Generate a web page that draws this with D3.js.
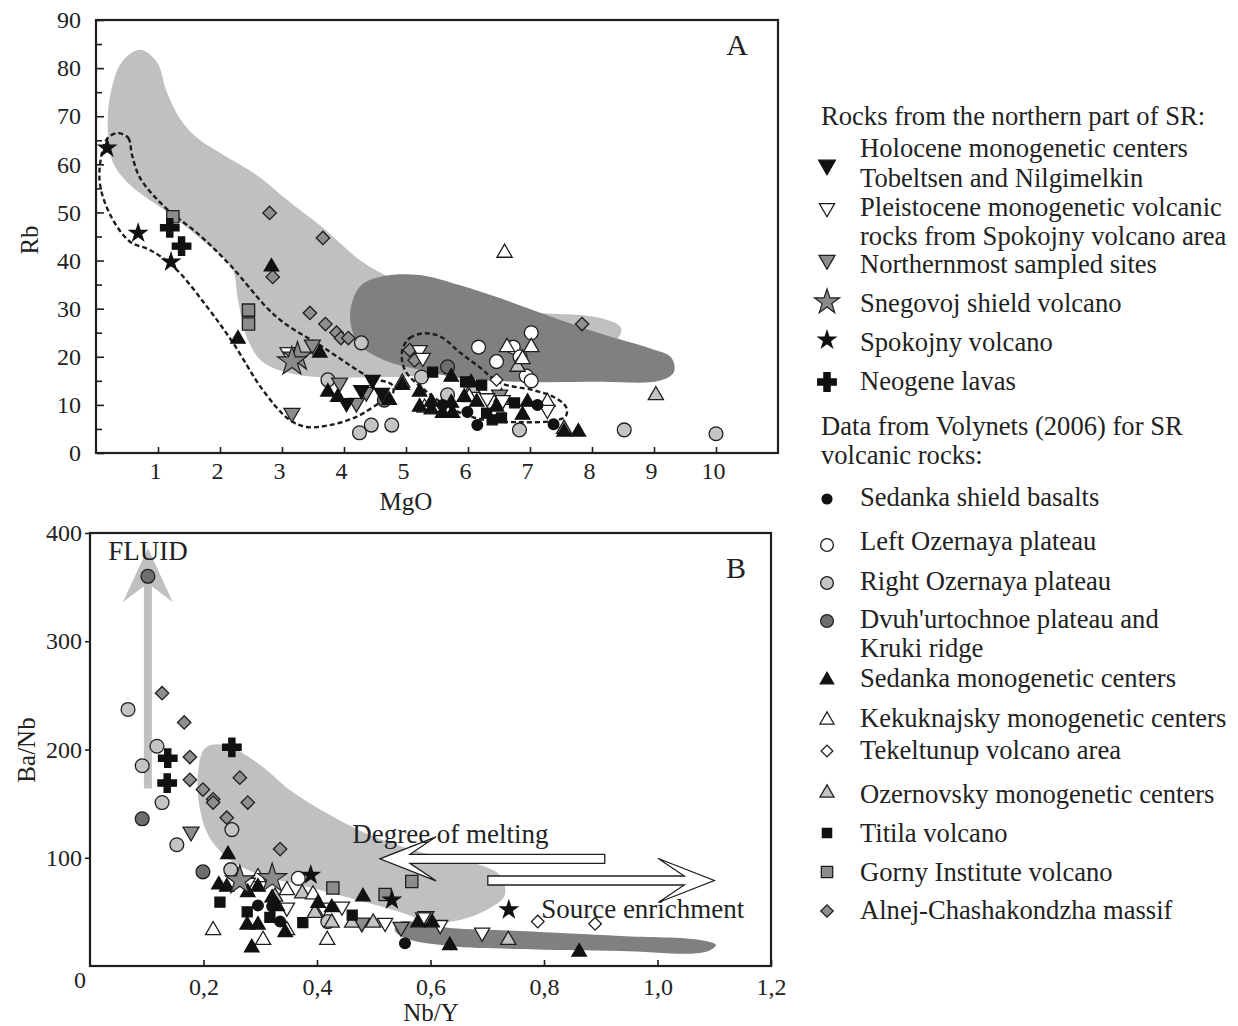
<!DOCTYPE html>
<html>
<head>
<meta charset="utf-8">
<script src="https://cdn.jsdelivr.net/npm/d3@7"></script>
<style>
	body { margin: 0; background: #fff; }
	svg { font-family: "Liberation Serif", "Times New Roman", serif; }
</style>
</head>
<body>
<svg id="chart" width="1238" height="1026"></svg>
<script>
"use strict";

// ---- panel A: MgO vs Rb ----
const holoA = [[4.04, 10.4], [4.28, 13.1], [4.46, 15.2], [4.61, 12.5]];
const pleistA = [[3.09, 21.0], [5.22, 21.4], [5.27, 19.8], [6.31, 11.4], [7.28, 9.0], [6.56, 11.0]];
const northA = [[3.49, 22.5], [3.93, 14.6], [4.20, 10.4], [3.16, 8.3], [4.36, 12.7], [6.51, 12.1]];
const snegoA = [[3.25, 20.0], [3.16, 19.0]];
const spokA = [[0.18, 63.4], [0.68, 45.7], [1.21, 39.7]];
const neoA = [[1.19, 46.8], [1.38, 43.0]];
const sedShieldA = [[5.59, 10.0], [5.99, 8.5], [6.15, 5.8], [7.12, 10.0], [7.38, 6.0]];
const leftOzA = [[6.17, 22.0], [6.46, 19.0], [6.73, 22.0], [6.84, 20.0], [7.02, 25.0], [6.94, 16.0], [7.02, 15.0]];
const rightOzA = [[4.28, 22.9], [3.74, 15.2], [4.25, 4.2], [4.44, 5.8], [4.77, 5.8], [5.25, 15.8], [5.67, 12.1], [6.83, 4.8], [8.52, 4.8], [10.0, 4.0]];
const dvuhA = [[5.67, 17.9], [4.65, 11.0]];
const sedMonoA = [[2.83, 38.7], [2.29, 23.7], [3.61, 20.8], [3.74, 12.7], [3.90, 11.6], [4.73, 11.0], [4.94, 14.1],
	[5.22, 12.7], [5.41, 10.6], [5.73, 10.4], [5.22, 9.6], [5.59, 8.3], [5.75, 8.3], [5.94, 11.6], [6.14, 10.6],
	[6.46, 9.6], [6.88, 7.9], [6.96, 10.6], [5.73, 15.8], [6.05, 14.6], [7.55, 4.4], [7.78, 4.4], [5.41, 9.0]];
const kekukA = [[6.59, 41.6], [6.63, 22.0], [7.02, 22.0], [6.88, 19.5], [6.02, 11.6], [6.54, 11.6], [7.28, 10.6], [5.30, 9.4]];
const tekelA = [[6.46, 15.2]];
const ozernA = [[9.03, 12.0], [6.07, 13.5], [6.54, 11.0], [7.55, 5.0], [6.80, 17.9], [4.94, 14.6]];
const titilaA = [[5.43, 16.8], [5.96, 14.8], [6.22, 14.1], [6.75, 10.4], [6.39, 6.9], [6.54, 7.3], [6.30, 8.3]];
const gornyA = [[1.24, 49.1], [2.46, 29.7], [2.46, 26.8]];
const alnejA = [[2.80, 49.9], [3.66, 44.7], [2.85, 36.6], [3.45, 29.1], [3.70, 26.8], [3.88, 25.0], [3.95, 23.9],
	[4.07, 23.9], [5.06, 21.4], [5.14, 19.3], [7.84, 26.8]];

// fields and outlines in A (MgO, Rb)
const lightFieldA = [[0.71, 83.8], [0.98, 81.3], [1.14, 75.1], [1.35, 69.6], [1.63, 65.5], [2.05, 62.0], [2.59, 57.8],
	[3.12, 52.2], [3.66, 46.8], [4.30, 39.7], [4.90, 35.6], [5.86, 31.8], [6.99, 29.3], [8.12, 28.1], [8.47, 26.0],
	[8.36, 23.1], [7.47, 22.5], [6.18, 20.4], [5.22, 16.2], [4.57, 15.8], [3.28, 16.2], [2.69, 18.9], [2.43, 24.1],
	[2.29, 31.8], [2.19, 38.5], [1.67, 44.7], [1.19, 49.7], [0.55, 55.7], [0.27, 60.5], [0.19, 67.2], [0.23, 74.4], [0.42, 81.3]];
const darkFieldA = [[4.12, 30.8], [4.28, 34.9], [4.65, 36.8], [5.22, 37.0], [5.86, 34.9], [6.51, 32.2], [7.31, 28.5],
	[8.12, 24.9], [8.92, 21.8], [9.28, 19.8], [9.32, 16.8], [9.08, 15.0], [8.12, 14.8], [6.83, 14.8], [5.86, 15.6],
	[5.22, 17.3], [4.65, 19.3], [4.25, 22.5], [4.11, 26.6]];
const dashLoop1A = [[0.35, 66.5], [0.52, 65.5], [0.58, 62.0], [0.71, 57.2], [1.11, 51.1], [1.67, 45.3], [2.16, 39.1],
	[2.91, 28.3], [3.66, 22.0], [4.41, 15.8], [4.78, 14.1], [4.78, 12.1], [4.57, 10.4], [4.20, 7.5], [3.77, 5.8],
	[3.40, 5.4], [3.12, 6.9], [2.69, 13.1], [2.21, 22.9], [1.79, 30.4], [1.27, 38.5], [0.87, 42.2], [0.55, 43.9],
	[0.23, 49.5], [0.06, 56.3], [0.10, 62.6], [0.19, 65.5]];
const dashLoop2A = [[4.94, 21.4], [5.06, 23.9], [5.30, 24.9], [5.57, 24.1], [5.86, 21.0], [6.18, 17.9], [6.51, 14.6],
	[7.04, 13.1], [7.39, 11.6], [7.58, 9.6], [7.58, 7.7], [7.39, 6.7], [6.83, 6.4], [6.26, 6.9], [5.78, 8.9],
	[5.30, 13.1], [4.98, 17.3]];

// ---- panel B: Nb/Y vs Ba/Nb ----
const holoB = [];
const pleistB = [[0.278, 77], [0.347, 54], [0.411, 54], [0.444, 55], [0.520, 40], [0.587, 45], [0.617, 38], [0.691, 31]];
const northB = [[0.178, 124], [0.479, 40], [0.592, 46], [0.548, 36]];
const snegoB = [[0.264, 79], [0.321, 81]];
const spokB = [[0.389, 84], [0.532, 61], [0.738, 52]];
const neoB = [[0.137, 192], [0.250, 202], [0.136, 169]];
const sedShieldB = [[0.296, 56], [0.321, 55], [0.335, 41], [0.555, 21]];
const leftOzB = [[0.367, 81]];
const rightOzB = [[0.067, 237], [0.118, 203], [0.092, 185], [0.127, 151], [0.153, 112], [0.250, 126], [0.248, 89], [0.419, 41]];
const dvuhB = [[0.102, 360], [0.092, 136], [0.199, 87]];
const sedMonoB = [[0.243, 103], [0.227, 75], [0.241, 73], [0.278, 68], [0.296, 73], [0.277, 38], [0.296, 38],
	[0.285, 17], [0.344, 31], [0.402, 58], [0.426, 54], [0.481, 64], [0.578, 40], [0.603, 40], [0.321, 63],
	[0.330, 55], [0.634, 19], [0.862, 13]];
const kekukB = [[0.217, 33], [0.296, 82], [0.305, 24], [0.347, 70], [0.393, 66], [0.418, 24], [0.347, 33]];
const tekelB = [[0.789, 41], [0.890, 39]];
const ozernB = [[0.326, 64], [0.374, 67], [0.396, 49], [0.426, 40], [0.462, 40], [0.499, 40], [0.737, 24]];
const titilaB = [[0.229, 59], [0.277, 50], [0.317, 45], [0.375, 40], [0.462, 47]];
const gornyB = [[0.428, 72], [0.567, 78], [0.520, 66]];
const alnejB = [[0.127, 252], [0.166, 225], [0.176, 193], [0.176, 172], [0.264, 174], [0.199, 163], [0.217, 154],
	[0.217, 151], [0.278, 151], [0.241, 137], [0.335, 108]];

const lightFieldB = [[0.203, 201.4], [0.238, 204.2], [0.300, 185.7], [0.352, 162.6], [0.423, 139.5], [0.493, 121.0],
	[0.581, 105.3], [0.670, 96.1], [0.722, 84.1], [0.731, 65.6], [0.705, 53.6], [0.652, 42.5], [0.599, 40.6],
	[0.546, 49.9], [0.458, 62.8], [0.370, 74.8], [0.300, 84.1], [0.247, 97.9], [0.211, 118.2], [0.194, 144.1], [0.190, 176.4]];
const darkFieldB = [[0.546, 40.6], [0.634, 35.1], [0.758, 32.3], [0.934, 27.7], [1.075, 24.0], [1.103, 19.4],
	[1.084, 12.9], [0.934, 13.9], [0.758, 15.7], [0.634, 18.5], [0.555, 25.9], [0.537, 33.3]];

// trend arrows in B: [x, y] of tail and head
const fluidArrow = [[0.102, 164], [0.102, 386]];
const meltArrow = [[0.907, 99], [0.511, 99]];
const enrichArrow = [[0.701, 79], [1.100, 79]];

// tick labels
const ticksAx = [1, 2, 3, 4, 5, 6, 7, 8, 9, 10];
const ticksAy = [0, 10, 20, 30, 40, 50, 60, 70, 80, 90];
const ticksBx = [0.2, 0.4, 0.6, 0.8, 1.0, 1.2];
const ticksBy = [100, 200, 300, 400];

// series styles
const styles = {
	holo: { shape: "triDown", fill: "#111", size: 100 },
	pleist: { shape: "triDown", fill: "#fff", size: 100 },
	north: { shape: "triDown", fill: "#8c8c8c", size: 110 },
	snego: { shape: "star", fill: "#8a8a8a", size: 260 },
	spok: { shape: "star", fill: "#111", size: 90 },
	neo: { shape: "cross", fill: "#111", size: 190 },
	sedShield: { shape: "circle", fill: "#111", size: 90 },
	leftOz: { shape: "circle", fill: "#fff", size: 150 },
	rightOz: { shape: "circle", fill: "#c4c4c4", size: 150 },
	dvuh: { shape: "circle", fill: "#6e6e6e", size: 150 },
	sedMono: { shape: "triUp", fill: "#111", size: 90 },
	kekuk: { shape: "triUp", fill: "#fff", size: 100 },
	tekel: { shape: "diamond", fill: "#fff", size: 80 },
	ozern: { shape: "triUp", fill: "#c4c4c4", size: 100 },
	titila: { shape: "square", fill: "#111", size: 100 },
	gorny: { shape: "square", fill: "#8c8c8c", size: 150 },
	alnej: { shape: "diamond", fill: "#8f8f8f", size: 90 }
};
const drawOrder = ["rightOz", "leftOz", "dvuh", "alnej", "gorny", "ozern", "kekuk", "tekel", "north", "pleist",
	"holo", "titila", "sedMono", "sedShield", "snego", "spok", "neo"];
const seriesA = { holo: holoA, pleist: pleistA, north: northA, snego: snegoA, spok: spokA, neo: neoA,
	sedShield: sedShieldA, leftOz: leftOzA, rightOz: rightOzA, dvuh: dvuhA, sedMono: sedMonoA, kekuk: kekukA,
	tekel: tekelA, ozern: ozernA, titila: titilaA, gorny: gornyA, alnej: alnejA };
const seriesB = { holo: holoB, pleist: pleistB, north: northB, snego: snegoB, spok: spokB, neo: neoB,
	sedShield: sedShieldB, leftOz: leftOzB, rightOz: rightOzB, dvuh: dvuhB, sedMono: sedMonoB, kekuk: kekukB,
	tekel: tekelB, ozern: ozernB, titila: titilaB, gorny: gornyB, alnej: alnejB };

const legendTop = [
	{ key: "holo", lines: ["Holocene monogenetic centers", "Tobeltsen and Nilgimelkin"] },
	{ key: "pleist", lines: ["Pleistocene monogenetic volcanic", "rocks from Spokojny volcano area"] },
	{ key: "north", lines: ["Northernmost sampled sites"] },
	{ key: "snego", lines: ["Snegovoj shield volcano"] },
	{ key: "spok", lines: ["Spokojny volcano"] },
	{ key: "neo", lines: ["Neogene lavas"] }
];
const legendBottom = [
	{ key: "sedShield", lines: ["Sedanka shield basalts"] },
	{ key: "leftOz", lines: ["Left Ozernaya plateau"] },
	{ key: "rightOz", lines: ["Right Ozernaya plateau"] },
	{ key: "dvuh", lines: ["Dvuh'urtochnoe plateau and", "Kruki ridge"] },
	{ key: "sedMono", lines: ["Sedanka monogenetic centers"] },
	{ key: "kekuk", lines: ["Kekuknajsky monogenetic centers"] },
	{ key: "tekel", lines: ["Tekeltunup volcano area"] },
	{ key: "ozern", lines: ["Ozernovsky monogenetic centers"] },
	{ key: "titila", lines: ["Titila volcano"] },
	{ key: "gorny", lines: ["Gorny Institute volcano"] },
	{ key: "alnej", lines: ["Alnej-Chashakondzha massif"] }
];

const svg = d3.select("#chart");
const ink = "#1e1e1e";

const symbolPath = (shape, size) => {
	switch (shape) {
		case "triUp":
		case "triDown": return d3.symbol(d3.symbolTriangle, size)();
		case "star": return d3.symbol(d3.symbolStar, size)();
		case "cross": return d3.symbol(d3.symbolCross, size)();
		case "circle": return d3.symbol(d3.symbolCircle, size)();
		default: return d3.symbol(d3.symbolSquare, size)();
	}
};
const symbolRotate = (shape) => shape === "triDown" ? 180 : (shape === "diamond" ? 45 : 0);

const drawSymbol = (g, key, x, y, scale) => {
	const st = styles[key];
	g.append("path")
		.attr("d", symbolPath(st.shape, st.size * (scale || 1)))
		.attr("transform", `translate(${x},${y}) rotate(${symbolRotate(st.shape)})`)
		.attr("fill", st.fill)
		.attr("stroke", st.fill === "#111" ? "#111" : ink)
		.attr("stroke-width", key === "snego" ? 1.2 : 1.3)
		.attr("stroke-linejoin", "miter");
};

const drawPanel = (cfg) => {
	const { x, y, series } = cfg;
	const g = svg.append("g");
	const area = d3.line().x(d => x(d[0])).y(d => y(d[1])).curve(d3.curveCatmullRomClosed.alpha(0.5));

	cfg.fields.forEach(f => {
		g.append("path").attr("d", area(f.data)).attr("fill", f.color).attr("stroke", "none");
	});
	(cfg.loops || []).forEach(l => {
		g.append("path").attr("d", area(l))
			.attr("fill", "none").attr("stroke", ink)
			.attr("stroke-width", 2.4).attr("stroke-dasharray", "5,3");
	});
	if (cfg.extra) cfg.extra(g);

	drawOrder.forEach(key => {
		series[key].forEach(d => drawSymbol(g, key, x(d[0]), y(d[1])));
	});

	// frame
	const [x0, x1] = x.range();
	const [y0, y1] = y.range();
	g.append("rect")
		.attr("x", x0).attr("y", y1)
		.attr("width", x1 - x0).attr("height", y0 - y1)
		.attr("fill", "none").attr("stroke", ink).attr("stroke-width", 2.2);
	return g;
};

// ---- panel A ----
const xA = d3.scaleLinear([0, 11], [96, 778]);
const yA = d3.scaleLinear([0, 90], [453, 20]);

drawPanel({
	x: xA, y: yA, series: seriesA,
	fields: [{ data: lightFieldA, color: "#c0c0c0" }, { data: darkFieldA, color: "#808080" }],
	loops: [dashLoop1A, dashLoop2A]
});

const axAx = svg.append("g")
	.attr("transform", `translate(0,${yA(0)})`)
	.call(d3.axisBottom(xA).tickValues(ticksAx).tickSize(-6).tickPadding(9));
const axAy = svg.append("g")
	.attr("transform", `translate(${xA(0) + 1},0)`)
	.call(d3.axisLeft(yA).tickValues(ticksAy).tickSize(-7).tickPadding(16));
svg.append("g")
	.attr("transform", `translate(${xA(0) + 1},0)`)
	.call(d3.axisLeft(yA).tickValues(d3.range(5, 90, 10)).tickSize(-5).tickFormat(""));

// ---- panel B ----
const xB = d3.scaleLinear([0, 1.2], [90, 771]);
const yB = d3.scaleLinear([0, 400], [966, 533]);

drawPanel({
	x: xB, y: yB, series: seriesB,
	fields: [{ data: lightFieldB, color: "#c0c0c0" }, { data: darkFieldB, color: "#808080" }],
	extra: (g) => {
		// FLUID arrow
		const fx = xB(fluidArrow[0][0]);
		const fy0 = yB(fluidArrow[0][1]);
		const fy1 = yB(fluidArrow[1][1]);
		g.append("path")
			.attr("d", `M${fx - 4},${fy0} L${fx - 4},${fy1 + 38} L${fx - 25},${fy1 + 54} L${fx},${fy1} ` +
				`L${fx + 25},${fy1 + 54} L${fx + 4},${fy1 + 38} L${fx + 4},${fy0} Z`)
			.attr("fill", "#c0c0c0");
	}
});

// open arrows on top of points
const openArrow = (tail, head) => {
	const tx = xB(tail[0]), hx = xB(head[0]), yy = yB(tail[1]);
	const dir = hx > tx ? 1 : -1;
	const back = hx - dir * 56;
	const notch = hx - dir * 30;
	svg.append("path")
		.attr("d", `M${tx},${yy - 4.5} L${notch},${yy - 4.5} L${back},${yy - 22} L${hx},${yy} ` +
			`L${back},${yy + 22} L${notch},${yy + 4.5} L${tx},${yy + 4.5} Z`)
		.attr("fill", "#fff").attr("stroke", ink).attr("stroke-width", 1.3);
};
openArrow(meltArrow[0], meltArrow[1]);
openArrow(enrichArrow[0], enrichArrow[1]);

svg.append("g")
	.attr("transform", `translate(0,${yB(0)})`)
	.call(d3.axisBottom(xB).tickValues(ticksBx).tickSize(-6).tickPadding(12)
		.tickFormat(d => d3.format(".1f")(d).replace(".", ",")));
svg.append("g")
	.attr("transform", `translate(${xB(0)},0)`)
	.call(d3.axisLeft(yB).tickValues(ticksBy).tickSize(5).tickPadding(3));

svg.selectAll(".domain").remove();
svg.selectAll(".tick line").attr("stroke", ink).attr("stroke-width", 1.6);
svg.selectAll(".tick text").attr("font-family", "Liberation Serif").attr("font-size", 24).attr("fill", "#222");
axAx.selectAll(".tick text").attr("dx", -3);

const txt = (x, y, s, size, anchor, rot) => {
	const t = svg.append("text")
		.attr("x", x).attr("y", y)
		.attr("font-size", size).attr("fill", "#222")
		.attr("text-anchor", anchor || "start")
		.text(s);
	if (rot) t.attr("transform", `rotate(${rot},${x},${y})`);
	return t;
};

txt(xB(0) - 10, 988, "0", 24, "middle");
txt(406, 510, "MgO", 25, "middle");
txt(38, 240, "Rb", 25, "middle", -90);
txt(431, 1021, "Nb/Y", 25, "middle");
txt(35, 750, "Ba/Nb", 25, "middle", -90);
txt(737, 55, "A", 30, "middle");
txt(736, 578, "B", 30, "middle");
const fa = 27;
txt(xB(0.032), yB(375), "FLUID", fa);
txt(xB(0.462), yB(114), "Degree of melting", fa);
txt(xB(0.795), yB(44), "Source enrichment", fa);

// ---- legend ----
const lg = svg.append("g");
const fs = 26.6;
txt(821, 125, "Rocks from the northern part of SR:", fs);
const topRows = [[157, 187], [216, 245], [273], [312], [351], [390]];
const topSym = [165, 208, 260, 302, 340, 382];
const topScale = [1.2, 1.0, 1.0, 0.75, 1.0, 1.0];
legendTop.forEach((item, i) => {
	item.lines.forEach((line, j) => txt(860, topRows[i][j], line, fs));
	drawSymbol(lg, item.key, 827, topSym[i], topScale[i]);
});
txt(821, 435, "Data from Volynets (2006) for SR", fs);
txt(821, 464, "volcanic rocks:", fs);
const botRows = [[506], [550], [590], [628, 657], [687], [727], [759], [803], [842], [881], [919]];
const botSym = [499, 545, 583, 621, 680, 720, 751, 793, 833, 872, 911];
legendBottom.forEach((item, i) => {
	item.lines.forEach((line, j) => txt(860, botRows[i][j], line, fs));
	drawSymbol(lg, item.key, 827, botSym[i], 0.85);
});
</script>
</body>
</html>
